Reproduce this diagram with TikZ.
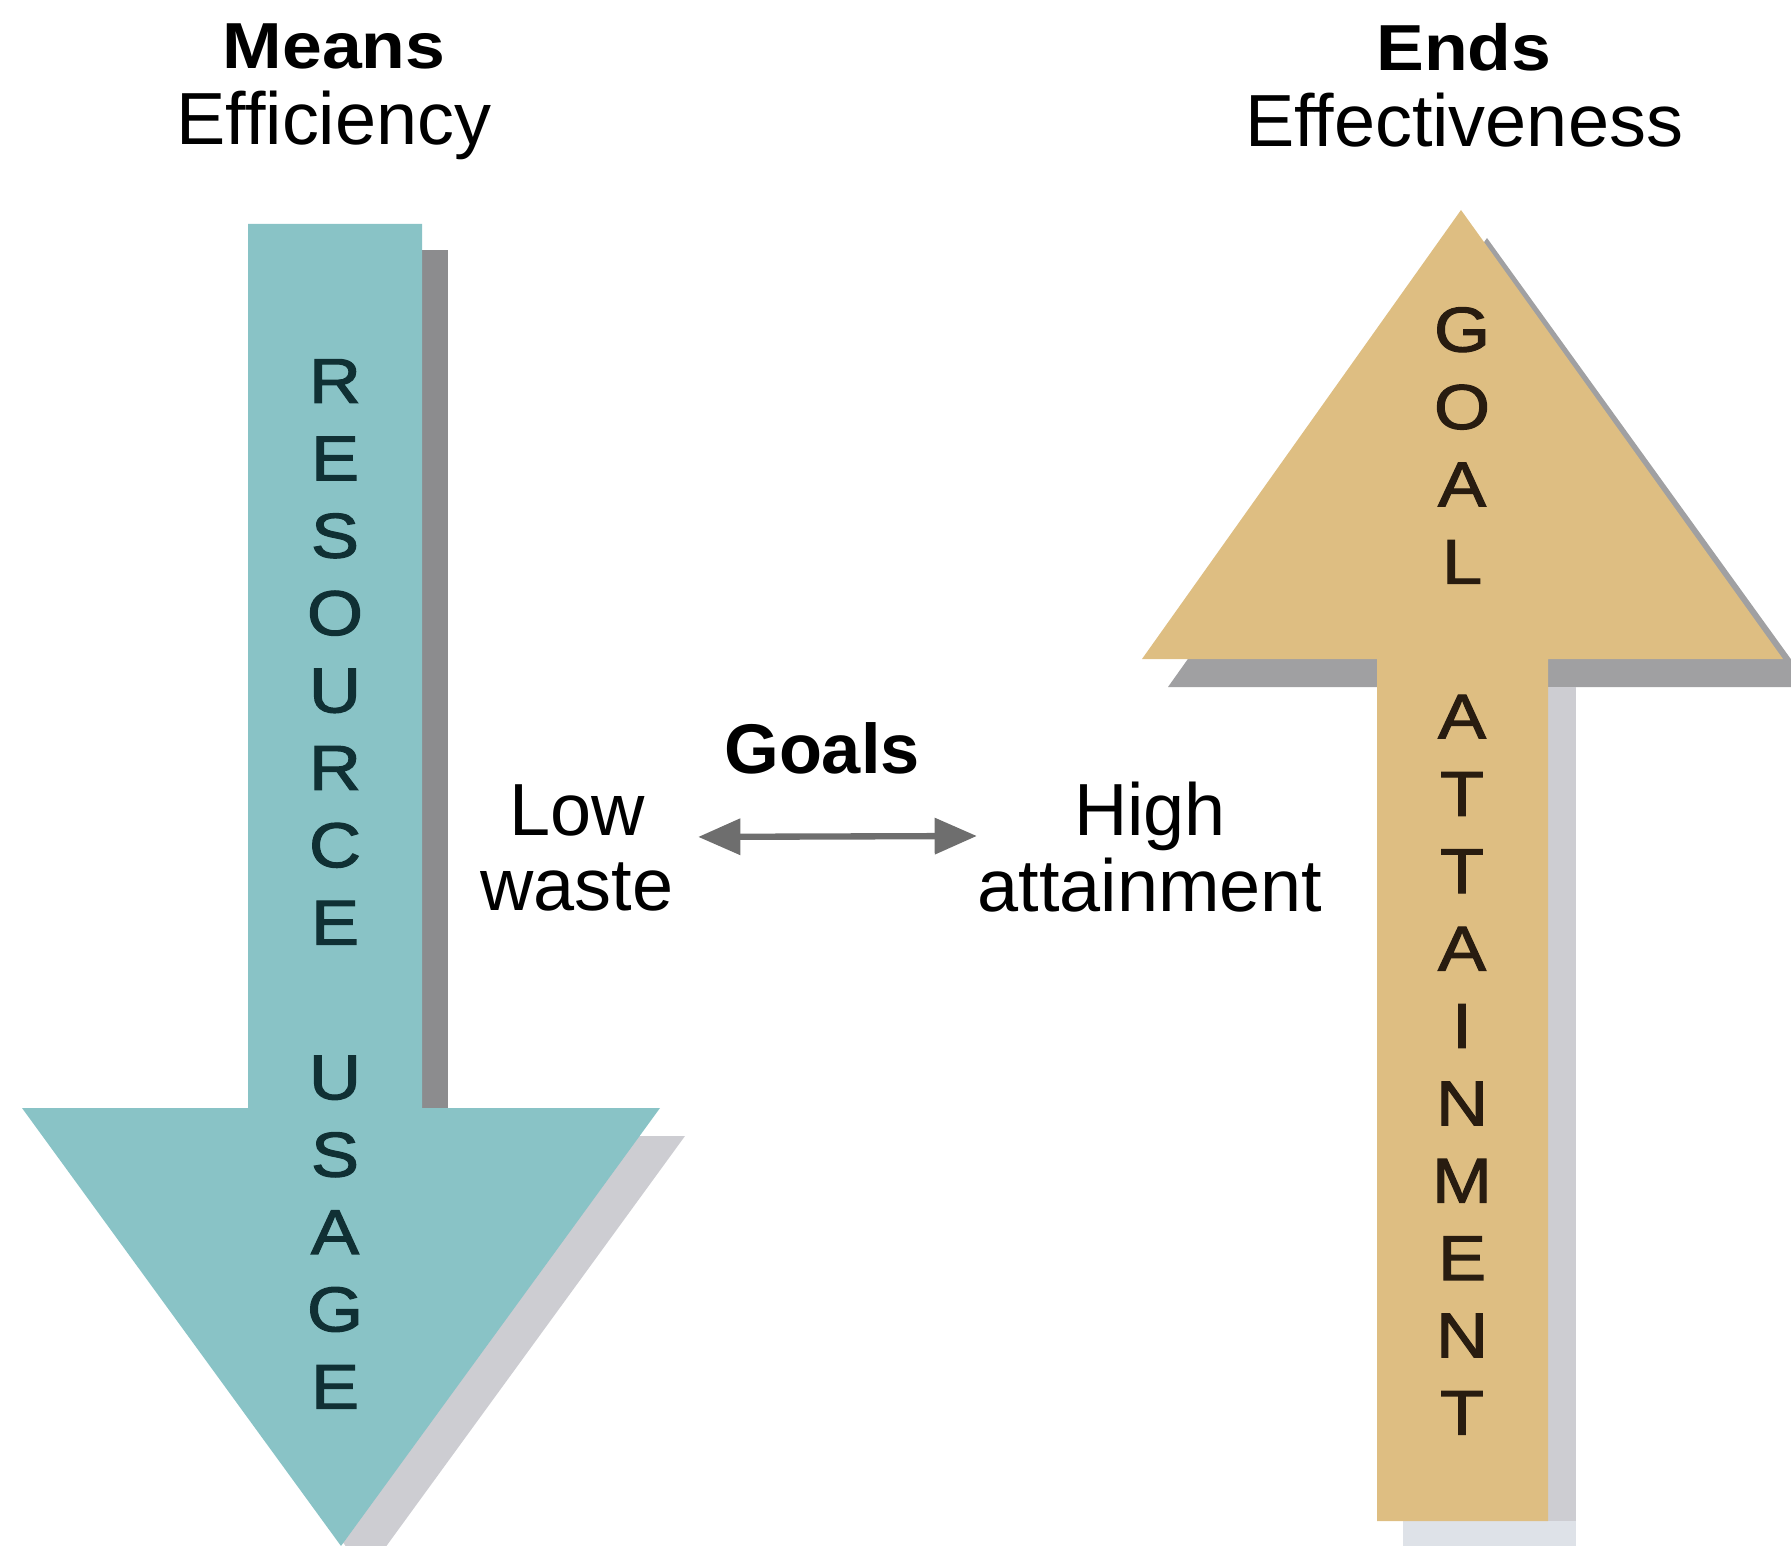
\documentclass[tikz,border=0pt]{standalone}
\usepackage{fontspec}
\setmainfont{Liberation Sans}
\newfontfamily\hurufpanah[FakeStretch=1.14,FakeBold=1.8]{Liberation Sans}
\newfontfamily\hurufjudul[FakeStretch=1.1]{Liberation Sans}
\usepackage{tikz}
\usetikzlibrary{arrows.meta}
\usetikzlibrary{positioning}

\definecolor{tosca}{RGB}{137,195,198}
\definecolor{krem}{RGB}{222,190,130}
\definecolor{bayanggelap}{RGB}{140,140,142}
\definecolor{bayangsedang}{RGB}{160,160,162}
\definecolor{bayangterang}{RGB}{205,205,210}
\definecolor{bayangpudar}{RGB}{222,226,232}
\definecolor{panahabu}{RGB}{110,110,110}
\definecolor{tulisantosca}{RGB}{16,48,52}
\definecolor{tulisankrem}{RGB}{40,28,16}

\begin{document}
\begin{tikzpicture}[x=0.01cm, y=-0.01cm,
		judul/.style={align=center, inner sep=0pt, font=\fontsize{21}{21.5}\selectfont},
		huruf/.style={align=center, inner sep=0pt, font=\hurufpanah\fontsize{18}{22}\selectfont},
		panahgoal/.style={{Triangle[length=12pt,width=10pt]}-{Triangle[length=12pt,width=10pt]}, line width=1.8pt, draw=panahabu}]
				% Ukuran gambar
				\useasboundingbox (0,0) rectangle (1791,1546);
				
				%% PANAH 1 (MEANS, KE BAWAH) %%
				% Buat bayangan panah
				\fill[bayangterang] (47,1136) -- (685,1136) -- (366,1574) -- cycle;
				\fill[bayanggelap] (422,250) rectangle (448,1108);
				
				% Buat badan dan kepala panah
				\fill[tosca] (248,224) -- (422,224) -- (422,1108) -- (660,1108) -- (341,1546)
					-- (22,1108) -- (248,1108) -- cycle;
				
				% Tulisan tegak di dalam panah
				\node[huruf, text=tulisantosca] (sumberdaya) at (335,884) {R\\E\\S\\O\\U\\R\\C\\E\\[22pt]U\\S\\A\\G\\E};
				%% AKHIR PANAH 1 %%
				
				%% PANAH 2 (ENDS, KE ATAS) %%
				% Buat bayangan panah
				\fill[bayangsedang] (1168,687) -- (1487,238) -- (1811,687) -- (1574,687) -- (1574,1521)
					-- (1403,1521) -- (1403,687) -- cycle;
				\fill[bayangterang] (1548,687) rectangle (1576,1521);
				\fill[bayangpudar] (1403,1521) rectangle (1576,1549);
				
				% Buat badan dan kepala panah
				\fill[krem] (1377,1521) -- (1377,659) -- (1142,659) -- (1461,210) -- (1783,659)
					-- (1548,659) -- (1548,1521) -- cycle;
				
				% Tulisan tegak di dalam panah
				\node[huruf, text=tulisankrem] (goal) at (1462,871) {G\\O\\A\\L\\[22pt]A\\T\\T\\A\\I\\N\\M\\E\\N\\T};
				%% AKHIR PANAH 2 %%
				
				%% JUDUL DAN KETERANGAN %%
				\node[judul, anchor=north] (means) at (334,23) {{\hurufjudul\fontsize{18.5}{21.5}\selectfont\bfseries Means}\\Efficiency};
				\node[judul, anchor=north] (ends) at (1464,23) {{\hurufjudul\fontsize{18.5}{21.5}\selectfont\bfseries Ends}\\Effectiveness};
				
				\node[judul] (lowwaste) at (577,848) {Low\\waste};
				\node[judul] (highatt) at (1150,847) {High\\attainment};
				\node[judul, font=\fontsize{20}{22}\selectfont\bfseries] (goals) at (822,748) {Goals};
				
				% Hubungkan kedua keterangan dengan panah dua arah
				\draw[panahgoal, shorten <=0.24cm] ([yshift=0.11cm]lowwaste.east) -- ([yshift=0.11cm]highatt.west);
				%% AKHIR JUDUL DAN KETERANGAN %%
\end{tikzpicture}
\end{document}
